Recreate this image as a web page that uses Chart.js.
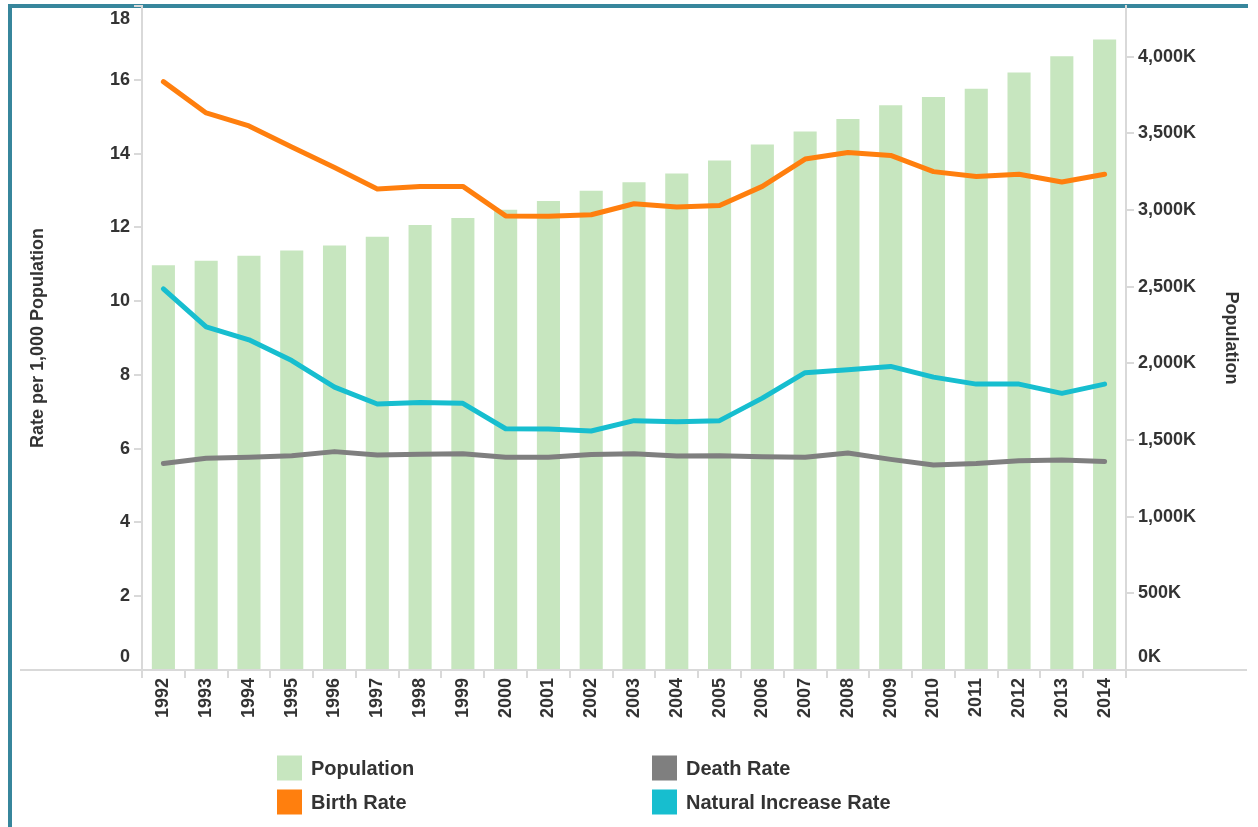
<!DOCTYPE html>
<html>
<head>
<meta charset="utf-8">
<title>Population, Birth, Death and Natural Increase Rates 1992-2014</title>
<script src="https://cdn.jsdelivr.net/npm/chart.js@4.4.1/dist/chart.umd.min.js"></script>
<style>
  html, body { margin: 0; padding: 0; background: #fff; }
  #wrap { width: 1258px; height: 827px; }
</style>
</head>
<body>
<div id="wrap"><canvas id="popChart" width="1258" height="827"></canvas></div>
<script>
// Data (population in thousands, rates per 1,000 population)
const years = ['1992', '1993', '1994', '1995', '1996', '1997', '1998', '1999', '2000', '2001', '2002',
  '2003', '2004', '2005', '2006', '2007', '2008', '2009', '2010', '2011', '2012', '2013', '2014'];
const population = [2640, 2669, 2701, 2736, 2769, 2826, 2902, 2948, 3001, 3058, 3126,
  3180, 3237, 3323, 3427, 3511, 3593, 3682, 3737, 3791, 3896, 4002, 4111];
const birthRate = [15.95, 15.1, 14.75, 14.18, 13.62, 13.04, 13.11, 13.11, 12.31, 12.3, 12.34,
  12.64, 12.55, 12.59, 13.11, 13.85, 14.03, 13.95, 13.51, 13.38, 13.44, 13.23, 13.44];
const deathRate = [5.6, 5.74, 5.77, 5.81, 5.92, 5.83, 5.85, 5.86, 5.77, 5.77, 5.84,
  5.86, 5.8, 5.81, 5.78, 5.77, 5.88, 5.71, 5.56, 5.6, 5.67, 5.69, 5.65];
const naturalIncrease = [10.33, 9.3, 8.95, 8.39, 7.67, 7.21, 7.25, 7.23, 6.54, 6.53, 6.48,
  6.76, 6.73, 6.76, 7.37, 8.06, 8.14, 8.23, 7.94, 7.75, 7.75, 7.5, 7.75];
const rateTicks = [0, 2, 4, 6, 8, 10, 12, 14, 16, 18];
const popTicks = [0, 500, 1000, 1500, 2000, 2500, 3000, 3500, 4000];

const textColor = '#333333';
const axisGray = '#d9d9d9';
const tickFont = { family: "'Liberation Sans', Arial, sans-serif", size: 18, weight: 'bold' };

// teal frame around the view
const frame = {
  id: 'frame',
  beforeDraw(chart) {
    const ctx = chart.ctx;
    ctx.save();
    ctx.fillStyle = '#37869c';
    ctx.fillRect(8, 4, 1240, 4);
    ctx.fillRect(8, 4, 4, 823);
    ctx.restore();
  }
};

// push the 0 / 18 labels inside the plot like the original
const edgeTicks = {
  id: 'edgeTicks',
  beforeDraw(chart) {
    ['y', 'y1'].forEach(id => {
      const items = chart.scales[id].getLabelItems();
      items.forEach(it => {
        const t = it.options.translation;
        if (it.label === '0' || it.label === '0K') t[1] -= 13;
        if (it.label === '18') t[1] += 13;
      });
    });
  }
};

// long base line under the bars
const baseLine = {
  id: 'baseLine',
  beforeDatasetsDraw(chart) {
    const ctx = chart.ctx;
    const y = chart.chartArea.bottom;
    ctx.save();
    ctx.strokeStyle = axisGray;
    ctx.lineWidth = 2;
    ctx.beginPath();
    ctx.moveTo(20, y);
    ctx.lineTo(1247, y);
    ctx.stroke();
    ctx.restore();
  }
};

// two-column legend at the bottom
const gridLegend = {
  id: 'gridLegend',
  afterDraw(chart) {
    const ctx = chart.ctx;
    const colX = [277, 652];
    const rowY = [768, 802];
    ctx.save();
    ctx.font = "bold 20px 'Liberation Sans', Arial, sans-serif";
    ctx.textBaseline = 'middle';
    chart.data.datasets.forEach((ds, i) => {
      const x = colX[Math.floor(i / 2)];
      const y = rowY[i % 2];
      ctx.fillStyle = ds.type === 'bar' ? ds.backgroundColor : ds.borderColor;
      ctx.fillRect(x, y - 12.5, 25, 25);
      ctx.fillStyle = textColor;
      ctx.fillText(ds.label, x + 34, y + 1);
    });
    ctx.restore();
  }
};

const lineStyle = {
  type: 'line',
  yAxisID: 'y',
  borderWidth: 5,
  pointRadius: 0,
  tension: 0,
  borderJoinStyle: 'round',
  borderCapStyle: 'round',
  order: 1
};

new Chart(document.getElementById('popChart'), {
  data: {
    labels: years,
    datasets: [
      { type: 'bar', label: 'Population', data: population, yAxisID: 'y1',
        backgroundColor: '#c7e6bf', categoryPercentage: 1, barPercentage: 0.54, order: 2 },
      { ...lineStyle, label: 'Birth Rate', data: birthRate, borderColor: '#ff7f0e' },
      { ...lineStyle, label: 'Death Rate', data: deathRate, borderColor: '#7f7f7f' },
      { ...lineStyle, label: 'Natural Increase Rate', data: naturalIncrease, borderColor: '#17becf' }
    ]
  },
  options: {
    responsive: false,
    animation: false,
    layout: { padding: { top: 6, left: 0, right: 0, bottom: 0 } },
    plugins: { legend: { display: false }, tooltip: { enabled: false } },
    scales: {
      x: {
        grid: { drawOnChartArea: false, offset: true, tickLength: 8, color: axisGray, lineWidth: 2 },
        border: { color: axisGray, width: 2 },
        ticks: { minRotation: 90, maxRotation: 90, padding: 0, font: tickFont, color: textColor },
        afterFit: s => { s.height = 157; s.paddingLeft = 0; s.paddingRight = 0; }
      },
      y: {
        position: 'left',
        min: 0,
        max: 18,
        afterBuildTicks: s => { s.ticks = rateTicks.map(v => ({ value: v })); },
        grid: { drawOnChartArea: false, tickLength: 8, color: axisGray, lineWidth: 2 },
        border: { color: axisGray, width: 2 },
        ticks: { padding: 4, font: tickFont, color: textColor },
        title: { display: true, text: 'Rate per 1,000 Population', font: tickFont, color: textColor,
          padding: { top: 27, bottom: 0 } },
        afterFit: s => { s.width = 142; s.paddingTop = 0; s.paddingBottom = 0; }
      },
      y1: {
        position: 'right',
        min: 0,
        max: 4330,
        afterBuildTicks: s => { s.ticks = popTicks.map(v => ({ value: v })); },
        grid: { drawOnChartArea: false, tickLength: 8, color: axisGray, lineWidth: 2 },
        border: { color: axisGray, width: 2 },
        ticks: { padding: 4, font: tickFont, color: textColor,
          callback: v => v.toLocaleString('en-US') + 'K' },
        title: { display: true, text: 'Population', font: tickFont, color: textColor,
          padding: { top: 16, bottom: 0 } },
        afterFit: s => { s.width = 132; s.paddingTop = 0; s.paddingBottom = 0; }
      }
    }
  },
  plugins: [frame, edgeTicks, baseLine, gridLegend]
});
</script>
</body>
</html>
